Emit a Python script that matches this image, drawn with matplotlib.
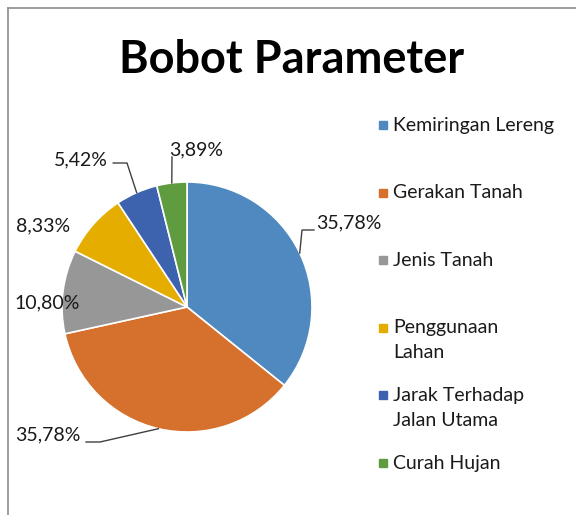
import numpy as np
import matplotlib.pyplot as plt
from matplotlib.lines import Line2D

categories = ["Kemiringan Lereng", "Gerakan Tanah", "Jenis Tanah",
              "Penggunaan\nLahan", "Jarak Terhadap\nJalan Utama", "Curah Hujan"]
weights = [35.78, 35.78, 10.80, 8.33, 5.42, 3.89]
colors = ["#4F89BF", "#D5702D", "#979797", "#E5AD00", "#3D63AE", "#5F9B3F"]

W, H = 576, 515
FONT = "Lato"


def px(x, y):
    # pixel position (from top-left) -> figure fraction
    return x / W, 1 - y / H


def pie_figure(output_file=None):
    fig = plt.figure(figsize=(W / 100, H / 100), dpi=100)

    # chart border (top and left edges visible)
    fig.add_artist(Line2D([8 / W, 1], [1 - 8 / H, 1 - 8 / H], color="#8c8c8c", lw=1.2))
    fig.add_artist(Line2D([8 / W, 8 / W], [0, 1 - 8 / H], color="#8c8c8c", lw=1.2))

    x0, y0 = px(62, 432)
    ax = fig.add_axes([x0, y0, 250 / W, 250 / H])
    wedges, _ = ax.pie(weights, colors=colors, startangle=90, counterclock=False,
                       wedgeprops=dict(edgecolor="white", linewidth=1.2))
    ax.set_xlim(-1, 1)
    ax.set_ylim(-1, 1)

    # label placement: text position, alignment, leader elbow points (data units)
    layout = [
        ((1.03, 0.672), "left", [(0.92, 0.616), (1.016, 0.616)]),
        ((-0.856, -1.024), "right", [(-0.696, -1.08), (-0.808, -1.08)]),
        ((-0.855, 0.032), "right", None),
        ((-0.935, 0.648), "right", None),
        ((-0.63, 1.176), "right", [(-0.48, 1.152), (-0.59, 1.152)]),
        ((-0.14, 1.256), "left", [(-0.12, 1.20)]),
    ]
    for w, val, (pos, ha, elbow) in zip(wedges, weights, layout):
        theta = np.deg2rad((w.theta1 + w.theta2) / 2)
        anchor = (np.cos(theta), np.sin(theta))
        if elbow:
            pts = [anchor] + elbow
            xs, ys = zip(*pts)
            ax.plot(xs, ys, color="#404040", lw=1, clip_on=False)
        ax.text(pos[0], pos[1], f"{val:.2f}%".replace(".", ","), ha=ha, va="center",
                fontsize=14, family=FONT, color="#1a1a1a", clip_on=False)

    fig.text(*px(292, 60), "Bobot Parameter", ha="center", va="center",
             fontsize=32.5, fontweight="bold", family=FONT)

    # legend, one entry per category, evenly spaced tops
    for i, (name, c) in enumerate(zip(categories, colors)):
        ytop = 125 + i * 67.6
        fig.add_artist(Line2D([382.5 / W], [1 - ytop / H], marker="s", ms=5.5,
                              color=c, transform=fig.transFigure))
        for j, line in enumerate(name.split("\n")):
            fig.text(*px(393, ytop + j * 25), line, ha="left", va="center",
                     fontsize=14, family=FONT, color="#1a1a1a")

    if output_file:
        plt.savefig(output_file, dpi=100)
    else:
        plt.show()


pie_figure("out.png")
